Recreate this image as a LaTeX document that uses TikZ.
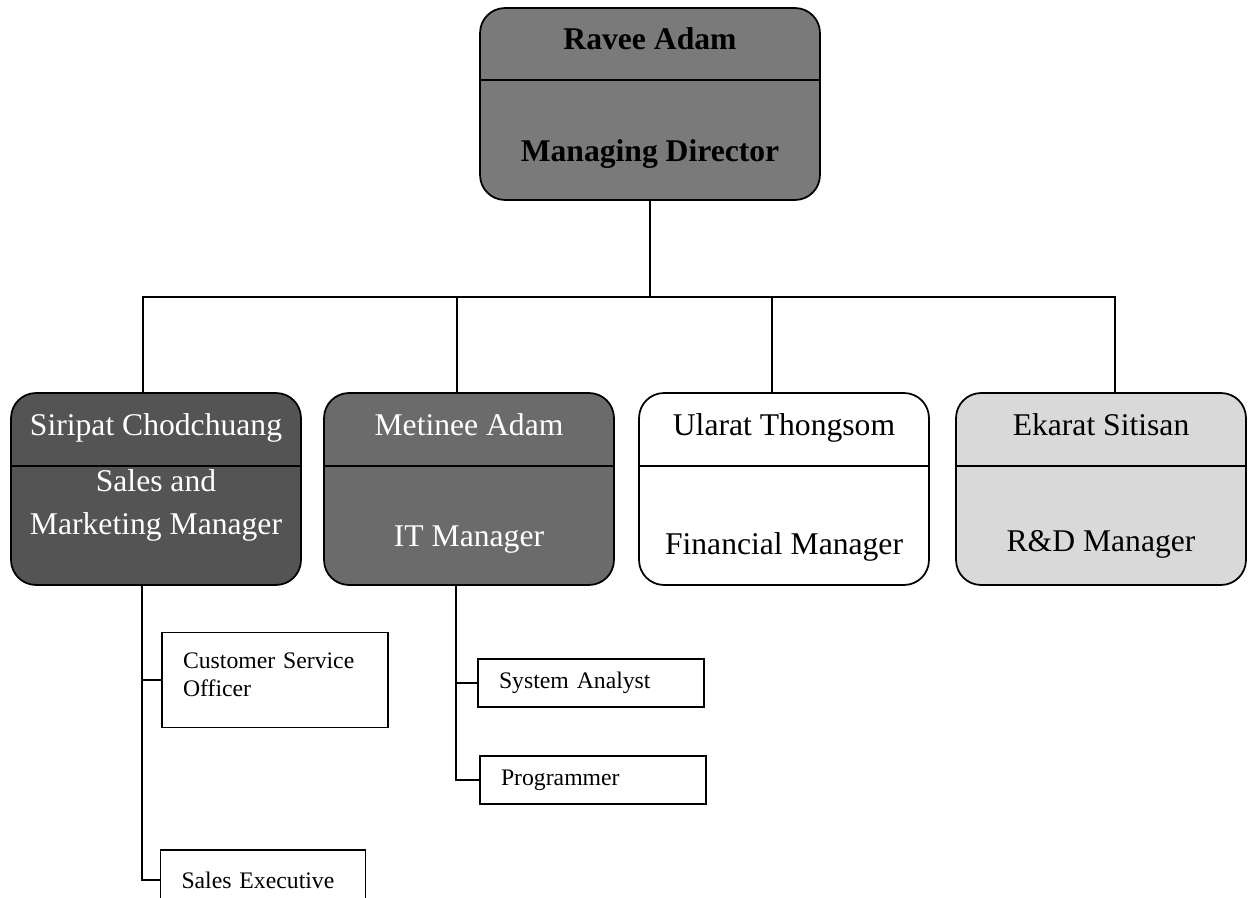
\documentclass[tikz,border=0pt]{standalone}
\usepackage{fontspec}
\setmainfont{Liberation Serif}
\usetikzlibrary{positioning}

\definecolor{headgray}{gray}{0.48}
\definecolor{salesgray}{gray}{0.33}
\definecolor{itgray}{gray}{0.42}
\definecolor{rdgray}{gray}{0.85}

\tikzset{
  mgrbox/.style={draw, line width=1pt, rounded corners=0.5cm, minimum width=5.8cm, minimum height=3.84cm},
  headtext/.style={font=\fontsize{18}{24}\selectfont\bfseries, anchor=base},
  mgrtext/.style={font=\fontsize{18}{24.5}\selectfont, align=center, anchor=base},
  staffbox/.style={draw, line width=0.8pt, minimum width=4.52cm, minimum height=0.96cm, inner xsep=0.42cm, text width=3.68cm, align=left, font=\fontsize{13.5}{16}\selectfont},
  orgline/.style={line width=0.8pt}
}

\begin{document}
\begin{tikzpicture}[x=0.02cm,y=-0.02cm]
\useasboundingbox (0,0) rectangle (1260,898);
\clip (0,0) rectangle (1260,898);

% managing director
\node[mgrbox, fill=headgray, minimum width=6.8cm](ravee) at (650,104){};
\coordinate (raveeSplit) at (650,80);
\draw[line width=1pt] (ravee.west |- raveeSplit) -- (ravee.east |- raveeSplit);
\node[headtext](raveeName) at (650,50){Ravee Adam};
\node[headtext](raveeTitle) at (650,162){Managing Director};

% managers
\node[mgrbox, fill=salesgray](siripat) at (156,489){};
\node[mgrbox, fill=itgray](metinee) at (469,489){};
\node[mgrbox, fill=white](ularat) at (784,489){};
\node[mgrbox, fill=rdgray](ekarat) at (1101,489){};
\coordinate (mgrSplit) at (650,466);
\foreach \n in {siripat,metinee,ularat,ekarat}
  \draw[line width=1pt] (\n.west |- mgrSplit) -- (\n.east |- mgrSplit);

\node[mgrtext, text=white](siripatName) at (156,435){Siripat Chodchuang};
\node[mgrtext, text=white, anchor=center](siripatTitle) at (156,505){Sales and\\Marketing Manager};
\node[mgrtext, text=white](metineeName) at (469,435){Metinee Adam};
\node[mgrtext, text=white](metineeTitle) at (469,546){IT Manager};
\node[mgrtext](ularatName) at (784,435){Ularat Thongsom};
\node[mgrtext](ularatTitle) at (784,554){Financial Manager};
\node[mgrtext](ekaratName) at (1101,435){Ekarat Sitisan};
\node[mgrtext](ekaratTitle) at (1101,551){R\&D Manager};

% staff
\node[staffbox, minimum height=1.9cm, text depth=0.78cm](cso) at (275,680){Customer Service\\Officer};
\node[staffbox, minimum width=4.1cm, text width=3.26cm, minimum height=1.2cm](salesexec) at (263,880){Sales Executive};
\node[staffbox](analyst) at (591,683){System Analyst};
\node[staffbox](programmer) at (593,780){Programmer};

% connectors
\coordinate (bus) at (650,297);
\coordinate (salesDrop) at (142,585);
\coordinate (itDrop) at (456,585);
\draw[orgline] (ravee.south) -- (bus);
\draw[orgline] ([xshift=-0.26cm]siripat.north) |- (bus) -| ([xshift=0.28cm]ekarat.north);
\draw[orgline] ([xshift=-0.24cm]metinee.north) -- ([xshift=-0.24cm]metinee.north |- bus);
\draw[orgline] ([xshift=-0.24cm]ularat.north) -- ([xshift=-0.24cm]ularat.north |- bus);

\draw[orgline] (salesDrop) |- (salesexec.west);
\draw[orgline] (cso.west) -- (cso.west -| salesDrop);
\draw[orgline] (itDrop) |- (programmer.west);
\draw[orgline] (analyst.west) -- (analyst.west -| itDrop);
\end{tikzpicture}
\end{document}
